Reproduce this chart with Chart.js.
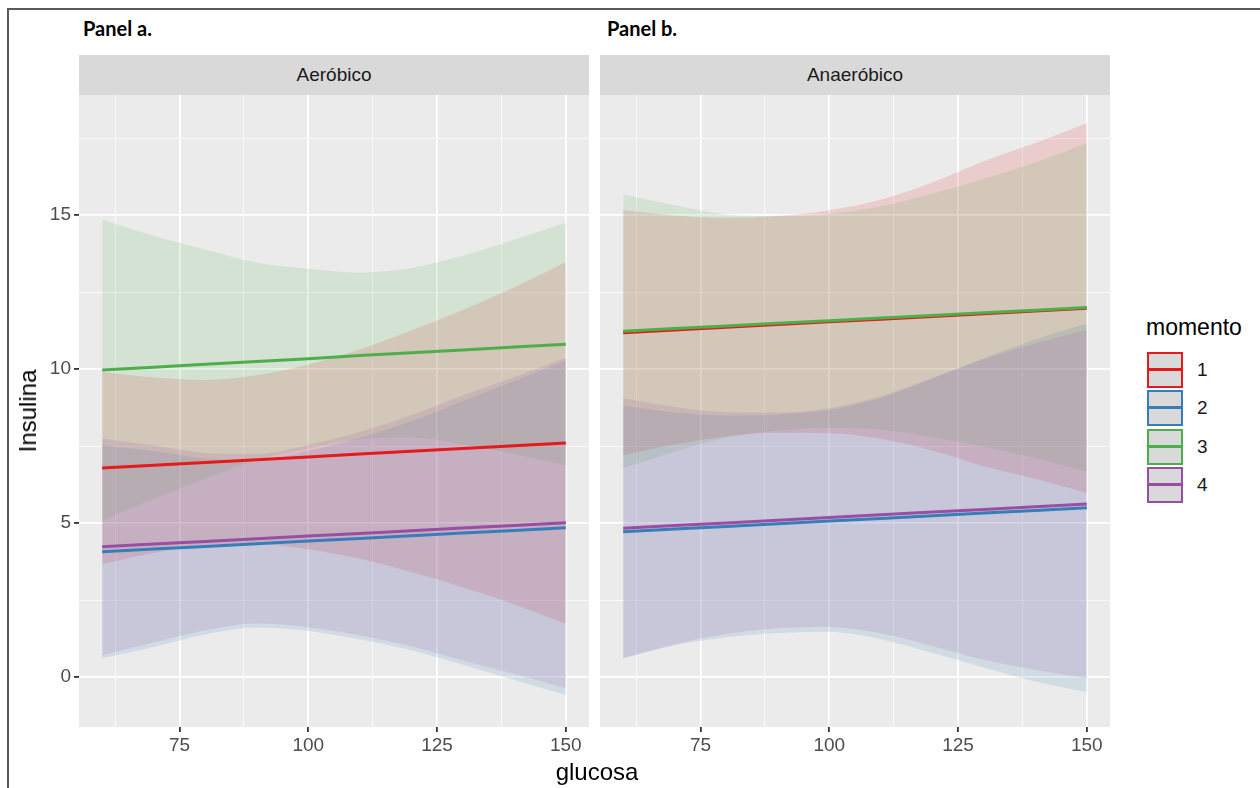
<!DOCTYPE html>
<html>
<head>
<meta charset="utf-8">
<script src="https://cdn.jsdelivr.net/npm/chart.js@4.4.1/dist/chart.umd.min.js"></script>
<style>
  body{margin:0;width:1260px;height:788px;background:#fff;position:relative;overflow:hidden;font-family:"Liberation Sans",Arial,sans-serif;}
  canvas{position:absolute;top:0;}
  #ca{left:0;}
  #cb{left:592px;}
  .frameL{position:absolute;left:7px;top:8px;width:2px;height:780px;background:#5a5a5a;}
  .frameT{position:absolute;left:7px;top:8px;width:1253px;height:2px;background:#5a5a5a;}
  .ptitle{position:absolute;top:16px;font-family:Lato,"Open Sans",sans-serif;font-weight:bold;font-size:20px;color:#000;}
  .strip{position:absolute;top:55px;height:40px;width:510px;background:#D9D9D9;color:#1A1A1A;font-size:19px;line-height:40px;text-align:center;}
  .axt{position:absolute;font-size:24px;color:#000;}
  #ytitle{left:28px;top:411px;transform:translate(-50%,-50%) rotate(-90deg);white-space:nowrap;}
  #xtitle{left:597px;top:772px;transform:translate(-50%,-50%);}
  #legTitle{position:absolute;left:1146px;top:314px;font-size:23px;color:#000;}
  .key{position:absolute;left:1147px;width:32px;height:32px;border:2px solid;background:#D9D9D9;}
  .key span{position:absolute;left:0;right:0;top:14px;height:3px;}
  .klab{position:absolute;left:1197px;font-size:19px;color:#1A1A1A;}
</style>
</head>
<body>
<div class="frameL"></div>
<div class="frameT"></div>
<div class="ptitle" style="left:83px;">Panel a.</div>
<div class="ptitle" style="left:607px;">Panel b.</div>
<div class="strip" style="left:79px;">Aeróbico</div>
<div class="strip" style="left:600px;">Anaeróbico</div>
<canvas id="ca" width="592" height="788"></canvas>
<canvas id="cb" width="530" height="788"></canvas>
<div class="axt" id="ytitle">Insulina</div>
<div class="axt" id="xtitle">glucosa</div>
<div id="legend"></div>
<script>
// ---------- data ----------
const glucosa = [60, 70, 80, 90, 100, 110, 120, 130, 140, 150];
const momentos = ['1', '2', '3', '4'];
const colores = ['#E41A1C', '#377EB8', '#4DAF4A', '#984EA3'];
const facetas = ['Aeróbico', 'Anaeróbico'];

const xTicks = [62.5, 75, 87.5, 100, 112.5, 125, 137.5, 150];
const xTickLabels = ['', '75', '', '100', '', '125', '', '150'];
const yTicks = [0, 2.5, 5, 7.5, 10, 12.5, 15, 17.5];
const yTickLabels = ['0', '', '5', '', '10', '', '15', ''];

// Panel a: Aeróbico
const aeroFit1  = [6.79, 6.88, 6.97, 7.06, 7.15, 7.24, 7.33, 7.42, 7.51, 7.60];
const aeroLow1  = [3.67, 4.03, 4.29, 4.32, 4.15, 3.84, 3.41, 2.92, 2.36, 1.73];
const aeroHigh1 = [9.91, 9.73, 9.65, 9.80, 10.15, 10.64, 11.25, 11.92, 12.66, 13.47];
const aeroFit2  = [4.07, 4.16, 4.24, 4.33, 4.42, 4.50, 4.59, 4.68, 4.76, 4.85];
const aeroLow2  = [0.61, 0.98, 1.38, 1.61, 1.50, 1.23, 0.87, 0.40, -0.09, -0.58];
const aeroHigh2 = [7.53, 7.34, 7.10, 7.05, 7.34, 7.77, 8.31, 8.96, 9.61, 10.28];
const aeroFit3  = [9.97, 10.06, 10.16, 10.25, 10.34, 10.44, 10.53, 10.62, 10.72, 10.81];
const aeroLow3  = [5.08, 5.79, 6.44, 7.05, 7.42, 7.72, 7.78, 7.56, 7.24, 6.87];
const aeroHigh3 = [14.86, 14.33, 13.88, 13.45, 13.26, 13.13, 13.28, 13.68, 14.20, 14.75];
const aeroFit4  = [4.23, 4.32, 4.40, 4.49, 4.58, 4.66, 4.75, 4.84, 4.92, 5.01];
const aeroLow4  = [0.71, 1.12, 1.52, 1.74, 1.62, 1.36, 1.00, 0.54, 0.10, -0.36];
const aeroHigh4 = [7.75, 7.52, 7.28, 7.24, 7.54, 7.96, 8.50, 9.14, 9.74, 10.38];

// Panel b: Anaeróbico
const anaeFit1  = [11.18, 11.27, 11.36, 11.45, 11.54, 11.62, 11.71, 11.80, 11.89, 11.98];
const anaeLow1  = [7.20, 7.55, 7.81, 7.93, 7.92, 7.74, 7.36, 6.85, 6.44, 5.98];
const anaeHigh1 = [15.16, 14.99, 14.91, 14.97, 15.16, 15.50, 16.06, 16.75, 17.34, 17.98];
const anaeFit2  = [4.72, 4.81, 4.89, 4.98, 5.07, 5.15, 5.24, 5.33, 5.41, 5.50];
const anaeLow2  = [0.62, 1.03, 1.29, 1.43, 1.47, 1.23, 0.79, 0.31, -0.14, -0.48];
const anaeHigh2 = [8.82, 8.59, 8.49, 8.53, 8.67, 9.07, 9.69, 10.35, 10.96, 11.48];
const anaeFit3  = [11.23, 11.32, 11.40, 11.49, 11.57, 11.66, 11.74, 11.83, 11.91, 12.00];
const anaeLow3  = [6.79, 7.32, 7.78, 8.01, 8.10, 8.04, 7.79, 7.48, 7.11, 6.67];
const anaeHigh3 = [15.67, 15.32, 15.02, 14.97, 15.04, 15.28, 15.69, 16.18, 16.71, 17.33];
const anaeFit4  = [4.83, 4.92, 5.00, 5.09, 5.18, 5.27, 5.36, 5.44, 5.53, 5.62];
const anaeLow4  = [0.61, 1.07, 1.40, 1.59, 1.63, 1.42, 1.01, 0.56, 0.23, -0.04];
const anaeHigh4 = [9.05, 8.77, 8.60, 8.59, 8.73, 9.12, 9.71, 10.32, 10.83, 11.28];

// ---------- helpers ----------
function rgba(hex, a) {
  const n = parseInt(hex.slice(1), 16);
  return `rgba(${(n >> 16) & 255},${(n >> 8) & 255},${n & 255},${a})`;
}
const pts = arr => arr.map((y, i) => ({ x: glucosa[i], y }));

function buildDatasets(fits, lows, highs) {
  const ds = [];
  let ord = 1000;
  // ribbons first (drawn underneath), in group order
  for (let k = 0; k < fits.length; k++) {
    const c = colores[k];
    ds.push({ label: 'low' + momentos[k], data: pts(lows[k]), borderWidth: 0, pointRadius: 0,
      fill: false, tension: 0.4, cubicInterpolationMode: 'monotone', order: ord-- });
    ds.push({ label: 'high' + momentos[k], data: pts(highs[k]), borderWidth: 0, pointRadius: 0,
      fill: '-1', backgroundColor: rgba(c, 0.15), tension: 0.4, cubicInterpolationMode: 'monotone', order: ord-- });
  }
  // fitted lines on top
  for (let k = 0; k < fits.length; k++) {
    ds.push({ label: momentos[k], data: pts(fits[k]), borderColor: colores[k], borderWidth: 3, pointRadius: 0,
      fill: false, tension: 0, order: ord-- });
  }
  return ds;
}

const bgPlugin = {
  id: 'panelBg',
  beforeDraw(chart) {
    const { ctx, chartArea: a } = chart;
    ctx.save();
    ctx.fillStyle = '#EBEBEB';
    ctx.fillRect(a.left, a.top, a.right - a.left, a.bottom - a.top);
    ctx.restore();
  }
};

function makePanel(id, fits, lows, highs, showY, padLeft, padRight) {
  const isMajorX = v => xTickLabels[xTicks.indexOf(v)] !== '';
  const isMajorY = v => yTickLabels[yTicks.indexOf(v)] !== '';
  const yW = showY ? 40 : 0;
  return new Chart(document.getElementById(id), {
    type: 'line',
    data: { datasets: buildDatasets(fits, lows, highs) },
    plugins: [bgPlugin],
    options: {
      responsive: false,
      animation: false,
      devicePixelRatio: 1,
      layout: { padding: { top: 95, left: padLeft - yW, right: padRight, bottom: 31 } },
      plugins: { legend: { display: false }, tooltip: { enabled: false }, title: { display: false } },
      scales: {
        x: {
          type: 'linear', min: 55.5, max: 154.5,
          afterBuildTicks: ax => { ax.ticks = xTicks.map(v => ({ value: v })); },
          afterFit: ax => { ax.height = 30; },
          border: { display: false },
          grid: {
            color: c => isMajorX(c.tick.value) ? '#FFFFFF' : 'rgba(255,255,255,0.75)',
            lineWidth: c => isMajorX(c.tick.value) ? 1.8 : 0.9,
            tickColor: c => isMajorX(c.tick.value) ? '#333333' : 'rgba(0,0,0,0)',
            tickLength: 5, tickWidth: 1.8
          },
          ticks: {
            autoSkip: false, maxRotation: 0, padding: 2,
            color: '#4D4D4D', font: { family: 'Liberation Sans', size: 19 },
            callback: v => { const i = xTicks.indexOf(v); return i >= 0 ? xTickLabels[i] : ''; }
          }
        },
        y: {
          type: 'linear', min: -1.62, max: 18.9,
          afterBuildTicks: ax => { ax.ticks = yTicks.map(v => ({ value: v })); },
          afterFit: ax => { ax.width = yW; },
          border: { display: false },
          grid: {
            color: c => isMajorY(c.tick.value) ? '#FFFFFF' : 'rgba(255,255,255,0.75)',
            lineWidth: c => isMajorY(c.tick.value) ? 1.8 : 0.9,
            tickColor: c => (showY && isMajorY(c.tick.value)) ? '#333333' : 'rgba(0,0,0,0)',
            drawTicks: showY, tickLength: showY ? 5 : 0, tickWidth: 1.8
          },
          ticks: {
            display: showY, autoSkip: false, padding: 3, crossAlign: 'near',
            color: '#4D4D4D', font: { family: 'Liberation Sans', size: 19 },
            callback: v => { const i = yTicks.indexOf(v); return i >= 0 ? yTickLabels[i] : ''; }
          }
        }
      }
    }
  });
}

makePanel('ca',
  [aeroFit1, aeroFit2, aeroFit3, aeroFit4],
  [aeroLow1, aeroLow2, aeroLow3, aeroLow4],
  [aeroHigh1, aeroHigh2, aeroHigh3, aeroHigh4], true, 79, 3);
makePanel('cb',
  [anaeFit1, anaeFit2, anaeFit3, anaeFit4],
  [anaeLow1, anaeLow2, anaeLow3, anaeLow4],
  [anaeHigh1, anaeHigh2, anaeHigh3, anaeHigh4], false, 8, 12);

// ---------- legend ----------
const leg = document.getElementById('legend');
leg.innerHTML = '<div id="legTitle">momento</div>' + momentos.map((m, i) => {
  const top = 352 + i * 38.3;
  return `<div class="key" style="top:${top}px;border-color:${colores[i]}"><span style="background:${colores[i]}"></span></div>` +
         `<div class="klab" style="top:${top + 7}px">${m}</div>`;
}).join('');
</script>
</body>
</html>
